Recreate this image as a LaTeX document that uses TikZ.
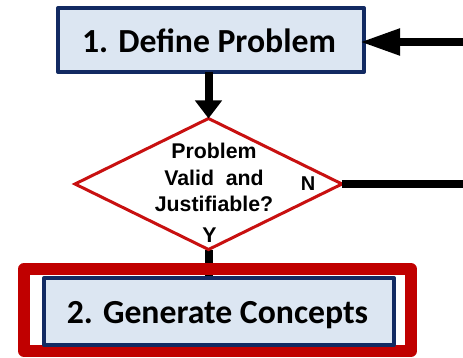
\documentclass[tikz,border=0pt]{standalone}
\usepackage{fontspec}
\setmainfont{Carlito}
\newfontfamily\arialfont{Liberation Sans}
\usetikzlibrary{shapes.geometric,arrows.meta,backgrounds}
\definecolor{navy}{RGB}{18,42,98}
\definecolor{boxfill}{RGB}{220,230,242}
\definecolor{hlred}{RGB}{192,0,0}
\definecolor{dred}{RGB}{200,16,16}
\tikzset{
  stepbox/.style={draw=navy, fill=boxfill, line width=4pt, line join=round, inner sep=0pt, outer sep=0pt},
  boxtext/.style={font=\fontsize{33.7}{36}\selectfont\bfseries, anchor=base, inner sep=0pt},
  decision/.style={diamond, draw=dred, fill=white, line width=3pt, inner sep=0pt, outer sep=0pt, minimum width=267pt, minimum height=131pt},
  dtext/.style={font=\arialfont\bfseries\fontsize{21.3}{26.5}\selectfont, inner sep=0pt},
  conn/.style={line width=8pt, black},
  highlight/.style={draw=hlred, line width=12pt, line join=round, inner sep=0pt, outer sep=0pt}
}
\begin{document}
\begin{tikzpicture}[x=1pt,y=-1pt]
\useasboundingbox (0,0) rectangle (463,358);
\node[stepbox, minimum width=306pt, minimum height=64pt] (box1) at (211,40) {};
\node[boxtext] (t1) at (209,53) {1. Define Problem};
\node[decision] (dia) at (208.5,184) {};
\node[dtext, align=center] (dt) at (214,177.5) {Problem\\Valid\ \ and\\Justifiable?};
\node[dtext, font=\arialfont\bfseries\fontsize{20}{24}\selectfont, anchor=base] (n) at (308,191) {N};
\node[dtext, anchor=base] (y) at (209.5,242) {Y};
\node[highlight, minimum width=387pt, minimum height=82pt] (hl) at (217.5,310) {};
\node[stepbox, minimum width=350pt, minimum height=67pt] (box2) at (219,311.5) {};
\node[boxtext] (t2) at (217.5,323) {2. Generate Concepts};
\coordinate (r1) at (463,42);
\coordinate (r2) at (463,184);
\draw[conn, -{Triangle[length=40pt,width=25pt]}, shorten >=-4pt] (r1) -- (r1 -| box1.east);
\draw[conn, -{Triangle[length=18pt,width=26pt]}] (dia.north |- box1.south) -- (dia.north);
\draw[conn] (dia.east) -- (r2);
\begin{scope}[on background layer]
\draw[conn] (dia.south) -- (dia.south |- box2.north);
\end{scope}
\end{tikzpicture}
\end{document}
